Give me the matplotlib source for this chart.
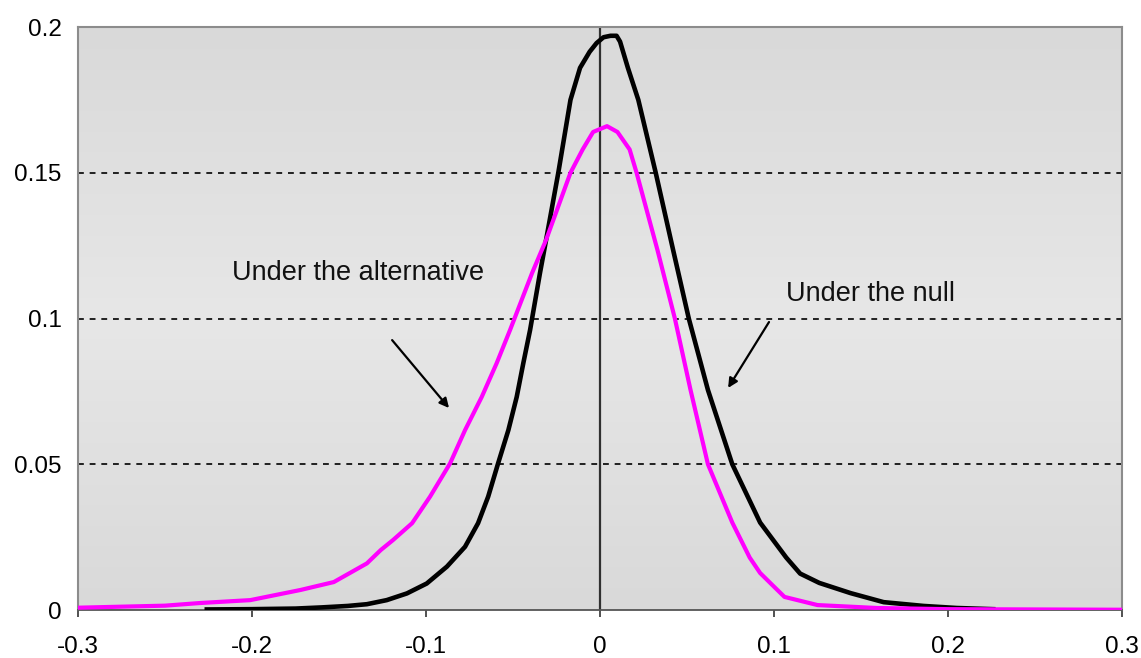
import matplotlib.pyplot as plt
from matplotlib.colors import LinearSegmentedColormap
import numpy as np

# curve under the null (black)
x_null = [-0.226, -0.200, -0.175, -0.160, -0.145, -0.134, -0.1226, -0.111, -0.0996,
          -0.088, -0.0776, -0.0701, -0.0643, -0.0586, -0.0527, -0.0479, -0.0441,
          -0.0402, -0.0345, -0.031, -0.024, -0.017, -0.0115, -0.006, -0.002,
          0.002, 0.006, 0.0095, 0.0115, 0.016, 0.022, 0.032, 0.042, 0.051, 0.062,
          0.076, 0.092, 0.107, 0.115, 0.126, 0.144, 0.163, 0.186, 0.205, 0.226]
y_null = [0.0002, 0.0003, 0.0005, 0.0009, 0.0014, 0.0020, 0.0034, 0.0057, 0.0091,
          0.0149, 0.0217, 0.0298, 0.0389, 0.0503, 0.0617, 0.0731, 0.0847,
          0.0961, 0.1157, 0.127, 0.150, 0.175, 0.186, 0.1915, 0.1945,
          0.1965, 0.197, 0.197, 0.195, 0.186, 0.175, 0.150, 0.1235, 0.100, 0.0755,
          0.050, 0.030, 0.018, 0.0125, 0.0093, 0.0058, 0.0027, 0.0014, 0.0007, 0.0003]

# curve under the alternative (magenta)
x_alt = [-0.300, -0.250, -0.230, -0.201, -0.172, -0.153, -0.134, -0.126, -0.119,
         -0.108, -0.0977, -0.0862, -0.0776, -0.068, -0.0594, -0.0517, -0.039,
         -0.031, -0.017, -0.010, -0.004, 0.004, 0.010, 0.017, 0.021, 0.033,
         0.043, 0.052, 0.062, 0.076, 0.086, 0.092, 0.100, 0.106, 0.125, 0.159,
         0.200, 0.250, 0.300]
y_alt = [0.0008, 0.0015, 0.0024, 0.0034, 0.0069, 0.0096, 0.0160, 0.0206, 0.0240,
         0.0298, 0.0389, 0.0503, 0.0617, 0.0731, 0.0847, 0.0961, 0.1157,
         0.127, 0.150, 0.158, 0.164, 0.166, 0.164, 0.158, 0.150, 0.1235,
         0.100, 0.0755, 0.050, 0.030, 0.018, 0.0127, 0.008, 0.0045, 0.0017, 0.0007,
         0.0003, 0.0002, 0.0001]

x_ticks = [-0.3, -0.2, -0.1, 0, 0.1, 0.2, 0.3]
x_labels = ["-0.3", "-0.2", "-0.1", "0", "0.1", "0.2", "0.3"]
y_ticks = [0, 0.05, 0.1, 0.15, 0.2]
y_labels = ["0", "0.05", "0.1", "0.15", "0.2"]

plt.rcParams['font.family'] = ['Liberation Sans', 'DejaVu Sans']

fig = plt.figure(figsize=(11.41, 6.58), dpi=100)
ax = fig.add_axes([0.0684, 0.0729, 0.915, 0.886])

# excel-like gradient plot area
cmap = LinearSegmentedColormap.from_list("bg", ["#d9d9d9", "#e7e7e7", "#d9d9d9"])
grad = np.linspace(0, 1, 256).reshape(-1, 1)
ax.imshow(grad, cmap=cmap, aspect='auto', extent=[-0.3, 0.3, 0, 0.2],
          origin='upper', zorder=0)

for yv in y_ticks[1:-1]:
    ax.axhline(yv, color='black', lw=1.2, ls=(0, (3.5, 3.5)), zorder=1)
ax.axvline(0, color='#303030', lw=1.6, zorder=1)

ax.plot(x_null, y_null, color='black', lw=3.3, solid_joinstyle='round', zorder=3)
ax.plot(x_alt, y_alt, color='#ff00ff', lw=3.0, solid_joinstyle='round', zorder=4)

ax.annotate("", xy=(-0.0868, 0.0693), xytext=(-0.1195, 0.0926),
            arrowprops=dict(arrowstyle='-|>', color='black', lw=1.6,
                            mutation_scale=14, shrinkA=0, shrinkB=0), zorder=5)
ax.annotate("", xy=(0.0736, 0.0762), xytext=(0.0971, 0.0988),
            arrowprops=dict(arrowstyle='-|>', color='black', lw=1.6,
                            mutation_scale=14, shrinkA=0, shrinkB=0), zorder=5)
ax.text(-0.2115, 0.1156, "Under the alternative", fontsize=19.5, va='center', ha='left',
        color='#111111', zorder=5)
ax.text(0.107, 0.1084, "Under the null", fontsize=19.5, va='center', ha='left',
        color='#111111', zorder=5)

ax.set_xlim(-0.3, 0.3)
ax.set_ylim(0, 0.2)
ax.set_xticks(x_ticks)
ax.set_xticklabels(x_labels, fontsize=17.5)
ax.set_yticks(y_ticks)
ax.set_yticklabels(y_labels, fontsize=17.5)
ax.tick_params(axis='x', direction='out', length=5, width=1.2, color='#333333', pad=14)
ax.tick_params(axis='y', length=0, pad=12)

for side in ['left', 'right', 'top']:
    ax.spines[side].set_color('#8c8c8c')
    ax.spines[side].set_linewidth(1.5)
ax.spines['bottom'].set_color('#555555')
ax.spines['bottom'].set_linewidth(1.3)

fig.savefig("out.png", dpi=100)
